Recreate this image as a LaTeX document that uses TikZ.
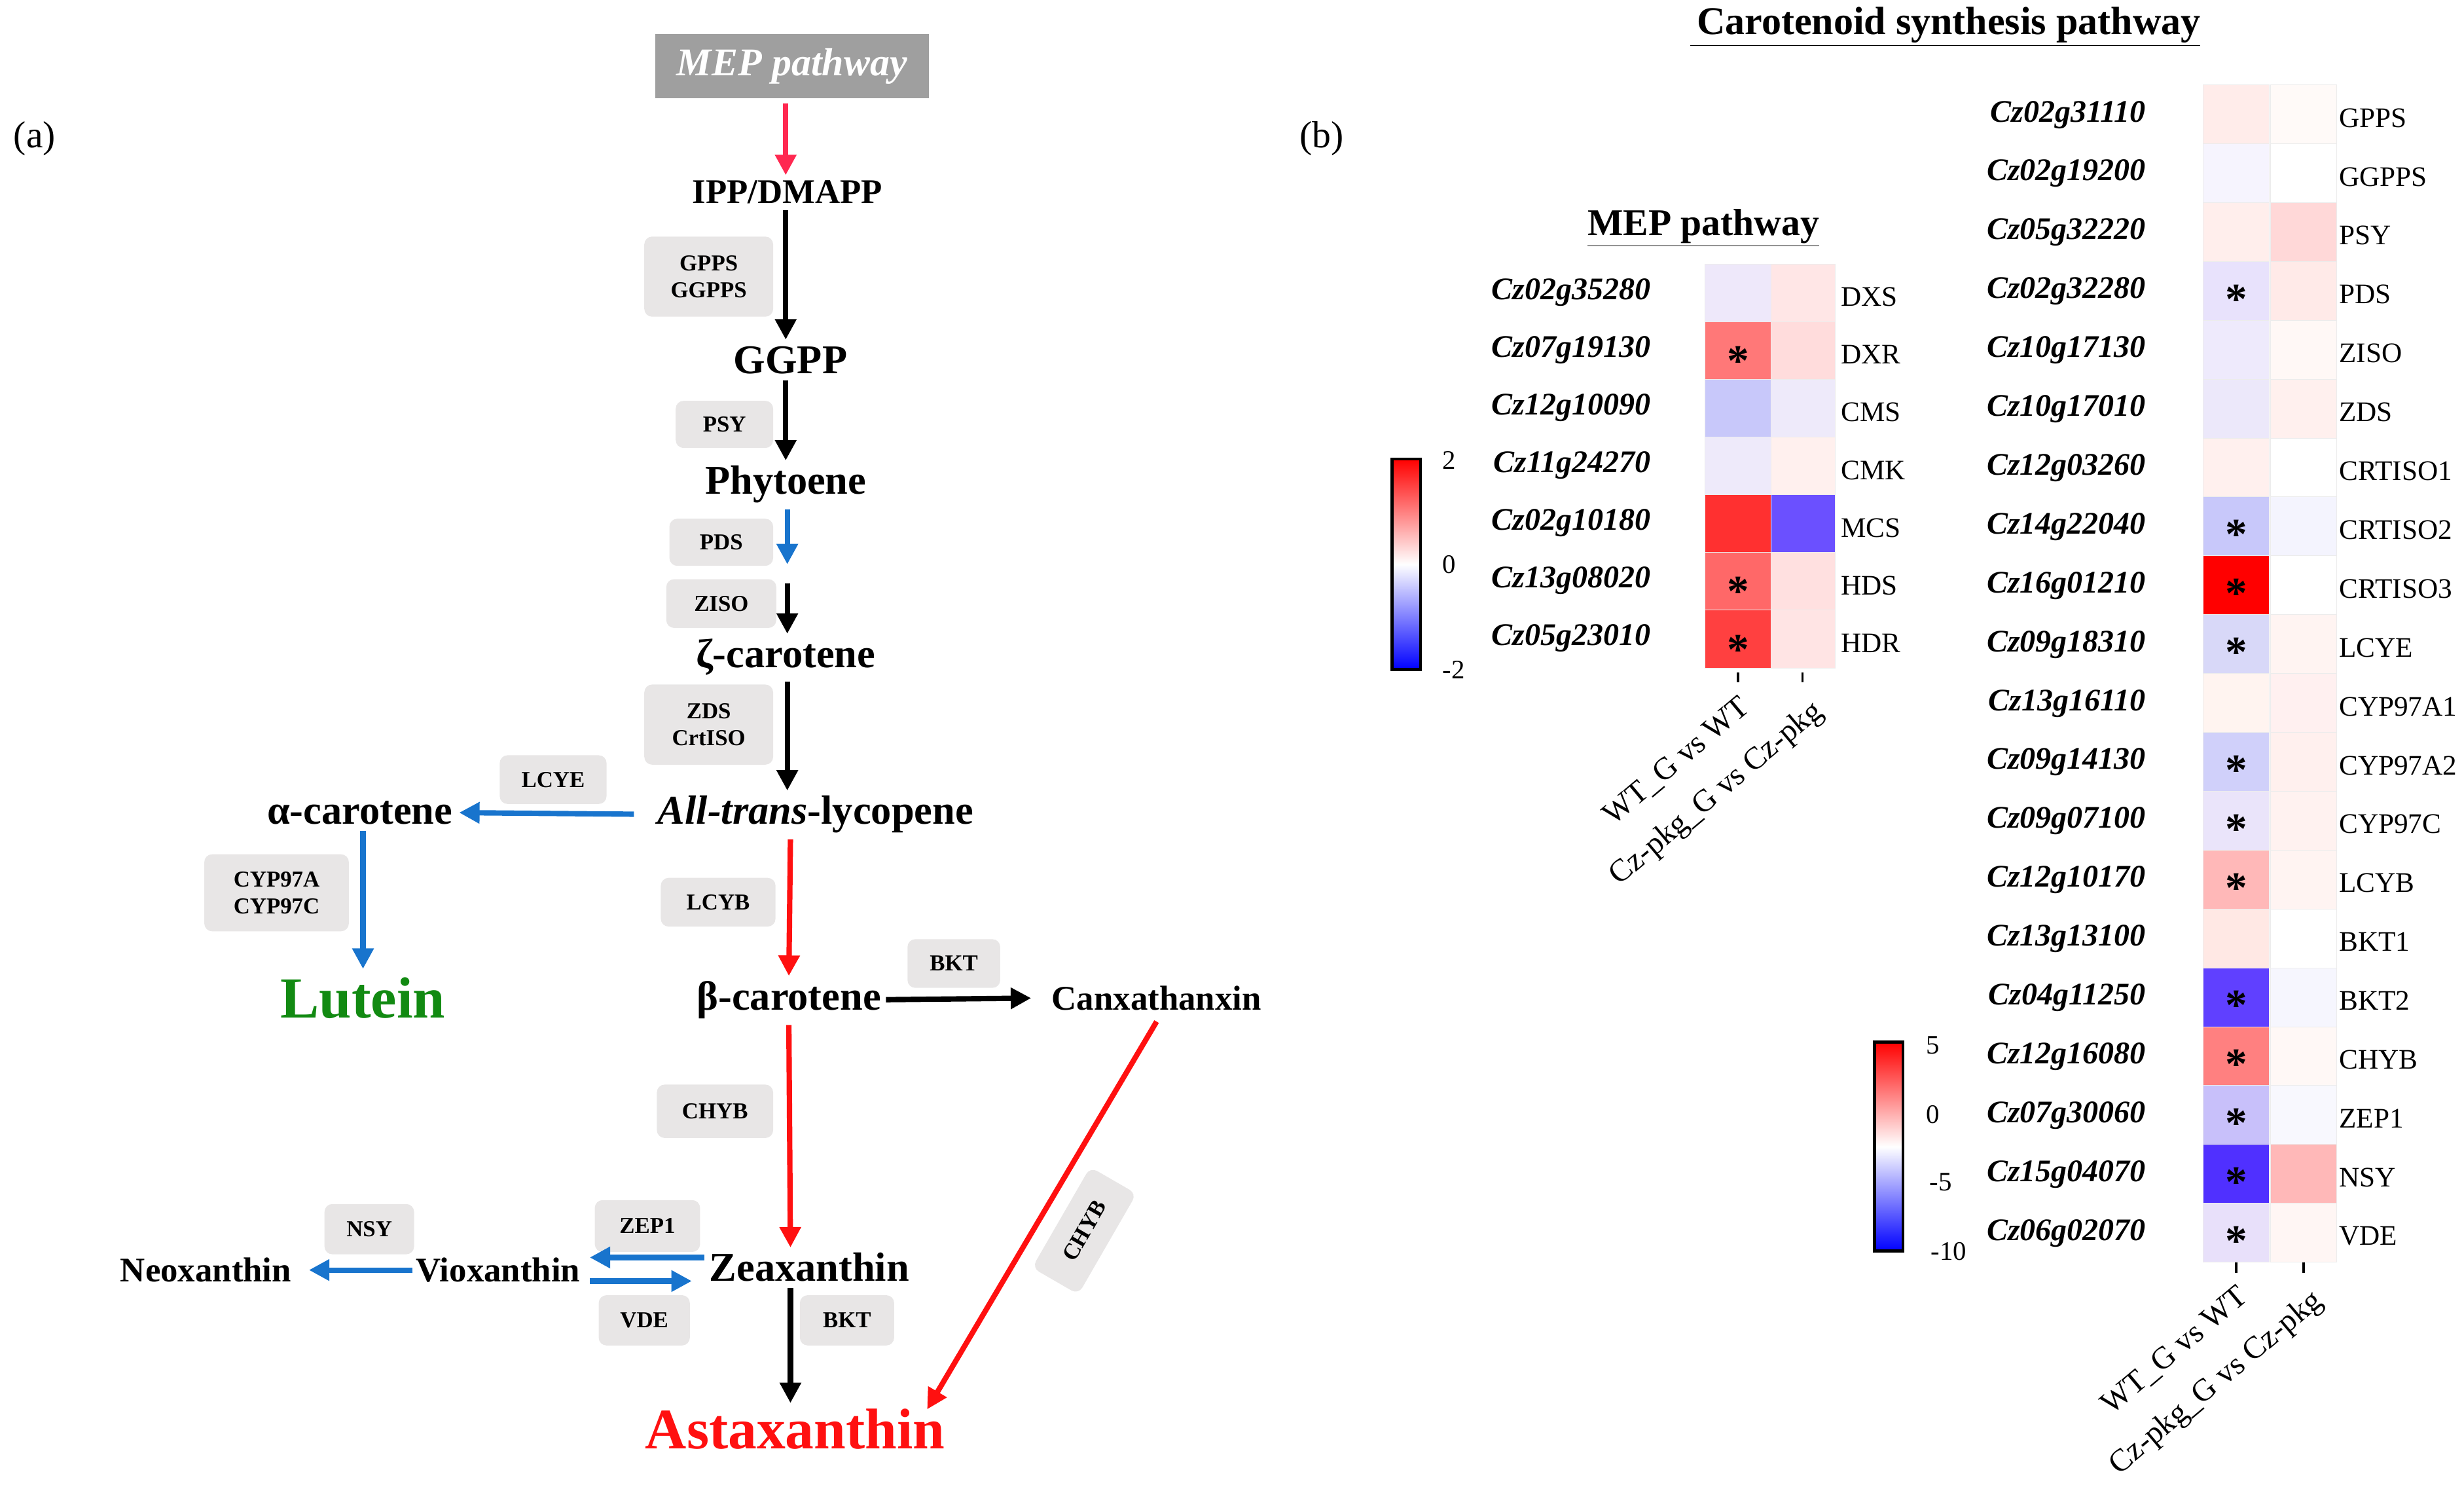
\documentclass[tikz,border=0pt]{standalone}
\usepackage{fontspec}
\setmainfont{Liberation Serif}
\usetikzlibrary{arrows.meta,positioning}
\definecolor{boxgray}{HTML}{E8E6E6}
\definecolor{arrred}{HTML}{FF1010}
\definecolor{arrpink}{HTML}{FF2850}
\definecolor{arrblue}{HTML}{1874CD}
\definecolor{lutgreen}{HTML}{128A12}
\tikzset{
  met/.style={font=\bfseries\fontsize{22}{26}\selectfont, inner sep=1pt},
  bigmet/.style={font=\bfseries\fontsize{26}{30}\selectfont, inner sep=1pt},
  enz/.style={fill=boxgray, rounded corners=5pt, font=\bfseries\fontsize{14.5}{17}\selectfont, align=center, inner sep=2pt},
  arr/.style={-{Triangle[length=13pt,width=13pt]}, line width=3.4pt},
  gene/.style={font=\bfseries\itshape\fontsize{20}{24}\selectfont, anchor=east},
  gname/.style={font=\fontsize{18}{21}\selectfont, anchor=west},
  star/.style={font=\bfseries\fontsize{28}{28}\selectfont, inner sep=0pt},
  cond/.style={font=\fontsize{20}{24}\selectfont, anchor=north east, rotate=40, inner sep=1pt},
  tick/.style={font=\fontsize{17}{20}\selectfont},
}
\begin{document}
\begin{tikzpicture}[x=1pt,y=-1pt]
\useasboundingbox (0,0) rectangle (1568,958);

% panel labels
\node[font=\fontsize{24}{28}\selectfont] (la) at (22,88) {(a)};
\node[font=\fontsize{24}{28}\selectfont] (lb) at (841,88) {(b)};

% ---------- pathway (a)
\node[fill=gray!75, minimum width=174pt, minimum height=41pt, text=white, font=\bfseries\itshape\fontsize{25}{29}\selectfont] (mep) at (504,42) {MEP pathway};
\node[met] (ipp) at (501,122) {IPP/DMAPP};
\node[bigmet] (ggpp) at (503,229) {GGPP};
\node[bigmet] (phy) at (500,308) {Phytoene};
\node[bigmet] (zeta) at (500,418) {ζ-carotene};
\node[bigmet] (lyco) at (519,518) {\textit{All-trans}-lycopene};
\node[bigmet] (alpha) at (229,517) {α-carotene};
\node[font=\bfseries\fontsize{37}{41}\selectfont, text=lutgreen] (lut) at (231,635) {Lutein};
\node[bigmet] (beta) at (502,636) {β-carotene};
\node[met] (canx) at (736,635) {Canxathanxin};
\node[bigmet] (zea) at (515,806) {Zeaxanthin};
\node[met] (vio) at (317,808) {Vioxanthin};
\node[met] (neo) at (131,808) {Neoxanthin};
\node[font=\bfseries\fontsize{36.5}{40}\selectfont, text=arrred] (asta) at (506,909) {Astaxanthin};

% enzyme boxes
\node[enz, minimum width=82pt, minimum height=51pt] (e1) at (451,176) {GPPS\\GGPPS};
\node[enz, minimum width=62pt, minimum height=30pt] (e2) at (461,270) {PSY};
\node[enz, minimum width=66pt, minimum height=30pt] (e3) at (459,345) {PDS};
\node[enz, minimum width=70pt, minimum height=31pt] (e4) at (459,384) {ZISO};
\node[enz, minimum width=82pt, minimum height=51pt] (e5) at (451,461) {ZDS\\CrtISO};
\node[enz, minimum width=68pt, minimum height=31pt] (e6) at (352,496) {LCYE};
\node[enz, minimum width=92pt, minimum height=49pt] (e7) at (176,568) {CYP97A\\CYP97C};
\node[enz, minimum width=73pt, minimum height=31pt] (e8) at (457,574) {LCYB};
\node[enz, minimum width=59pt, minimum height=31pt] (e9) at (607,613) {BKT};
\node[enz, minimum width=74pt, minimum height=34pt] (e10) at (455,707) {CHYB};
\node[enz, minimum width=74pt, minimum height=34pt, rotate=60] (e11) at (690,783) {CHYB};
\node[enz, minimum width=67pt, minimum height=33pt] (e12) at (412,780) {ZEP1};
\node[enz, minimum width=58pt, minimum height=32pt] (e13) at (410,840) {VDE};
\node[enz, minimum width=57pt, minimum height=32pt] (e14) at (235,782) {NSY};
\node[enz, minimum width=60pt, minimum height=32pt] (e15) at (539,840) {BKT};

% arrows
\draw[arr, arrpink] ([xshift=-4pt,yshift=-3pt]mep.south) -- ([xshift=-1pt,yshift=2pt]ipp.north);
\draw[arr] ([xshift=-1pt,yshift=-3pt]ipp.south) -- ([xshift=-3pt,yshift=3pt]ggpp.north);
\draw[arr] ([xshift=-3pt,yshift=-3pt]ggpp.south) -- ([yshift=2pt]phy.north);
\draw[arr, arrblue] ([xshift=1pt,yshift=-3pt]phy.south) -- ([xshift=1pt,yshift=-38pt]phy.south);
\draw[arr] ([xshift=1pt,yshift=-50pt]phy.south) -- ([xshift=1pt,yshift=2pt]zeta.north);
\draw[arr] ([xshift=1pt,yshift=-3pt]zeta.south) -- ([xshift=-18pt,yshift=2pt]lyco.north);
\draw[arr, arrblue] ([xshift=-14pt]lyco.west) -- ([xshift=3pt]alpha.east);
\draw[arr, arrblue] ([yshift=-3pt]alpha.south -| lut.north) -- ([yshift=2pt]lut.north);
\draw[arr, arrred] ([xshift=-16pt,yshift=-3pt]lyco.south) -- ([yshift=2pt]beta.north);
\draw[arr] ([xshift=2pt]beta.east) -- ([xshift=-12pt]canx.west);
\draw[arr, arrred] ([yshift=-3pt]beta.south) -- ([xshift=-12pt,yshift=2pt]zea.north);
\draw[arr, arrred] ([yshift=-6pt]canx.south) -- ([xshift=84pt,yshift=-4pt]asta.north);
\draw[arr, arrblue] ([xshift=-2pt,yshift=6pt]zea.west) -- ([xshift=-3pt,yshift=8pt]vio.east -| e12.west);
\draw[arr, arrblue] ([xshift=-3pt,yshift=-7pt]vio.east -| e12.west) -- ([xshift=-10pt,yshift=-9pt]zea.west);
\draw[arr, arrblue] ([xshift=-1pt]vio.west) -- ([xshift=10pt]neo.east);
\draw[arr] ([xshift=-12pt,yshift=-3pt]zea.south) -- ([xshift=-3pt,yshift=0pt]asta.north);

% ---------- heatmaps (b)
\node[font=\bfseries\fontsize{25}{29}\selectfont] (title) at (1238,17) {\underline{\,Carotenoid synthesis pathway}};
\node[font=\bfseries\fontsize{24}{28}\selectfont] (meptitle) at (1084,145) {\underline{MEP pathway}};

% MEP heatmap
\foreach \g/\n/\ca/\cb/\s [count=\i] in {
  Cz02g35280/DXS/EEE8FA/FFE6E6/,
  Cz07g19130/DXR/FF7878/FFDCDC/*,
  Cz12g10090/CMS/C8C8FA/EEEAFA/,
  Cz11g24270/CMK/EEEAFA/FFF0EE/,
  Cz02g10180/MCS/FF3030/6B50FF/,
  Cz13g08020/HDS/FF6868/FFE0E0/*,
  Cz05g23010/HDR/FF4040/FFE4E4/*}{
  \pgfmathsetmacro\yy{168+36.7*(\i-1)}
  \definecolor{ca}{HTML}{\ca}\definecolor{cb}{HTML}{\cb}
  \fill[ca, draw=gray!15] (1085,\yy) rectangle (1127,\yy+36.7);
  \fill[cb, draw=gray!15] (1127,\yy) rectangle (1168,\yy+36.7);
  \node[gene] (mg\i) at (1054,\yy+18) {\g};
  \node[gname] (mn\i) at (1168,\yy+21) {\n};
  \node[star] (ms\i) at (1106,\yy+25) {\s};
}
\shade[top color=red, bottom color=blue, middle color=white] (886,292) rectangle (904,426);
\draw[line width=2pt] (886,292) rectangle (904,426);
\node[tick] (mk1) at (922,293) {2};
\node[tick] (mk2) at (922,359) {0};
\node[tick] (mk3) at (925,426) {-2};
\draw[line width=1.5pt] (1106,428) -- (1106,434) (1147,428) -- (1147,434);
\node[cond] (mc1) at (1106,440) {WT\_G vs WT};
\node[cond] (mc2) at (1152,442) {Cz-pkg\_G vs Cz-pkg};

% carotenoid heatmap
\foreach \g/\n/\ca/\cb/\s [count=\i] in {
  Cz02g31110/GPPS/FFECEA/FFFAF8/,
  Cz02g19200/GGPPS/F6F4FE/FFFFFF/,
  Cz05g32220/PSY/FFEEEC/FFD8D8/,
  Cz02g32280/PDS/E8E2FC/FFEAE8/*,
  Cz10g17130/ZISO/EEEAFC/FFF8F6/,
  Cz10g17010/ZDS/ECE8FA/FFF0EE/,
  Cz12g03260/CRTISO1/FFF0EE/FFFFFF/,
  Cz14g22040/CRTISO2/C8C8FA/F4F4FE/*,
  Cz16g01210/CRTISO3/FF0000/FFFFFF/*,
  Cz09g18310/LCYE/D8D8F8/FFF4F2/*,
  Cz13g16110/CYP97A1/FFF4F0/FFF0F0/,
  Cz09g14130/CYP97A2/D0D0FA/FFF0EE/*,
  Cz09g07100/CYP97C/EAE4FA/FFF2F0/*,
  Cz12g10170/LCYB/FFB8B8/FFF4F2/*,
  Cz13g13100/BKT1/FFE8E4/FFFFFF/,
  Cz04g11250/BKT2/6040FF/F6F6FE/*,
  Cz12g16080/CHYB/FF8080/FFF8F6/*,
  Cz07g30060/ZEP1/C8C0FA/F8F8FE/*,
  Cz15g04070/NSY/5030FF/FFB8B8/*,
  Cz06g02070/VDE/E8E0FA/FFF6F4/*}{
  \pgfmathsetmacro\yy{54+37.45*(\i-1)}
  \definecolor{ca}{HTML}{\ca}\definecolor{cb}{HTML}{\cb}
  \fill[ca, draw=gray!15] (1402,\yy) rectangle (1444,\yy+37.45);
  \fill[cb, draw=gray!15] (1445,\yy) rectangle (1487,\yy+37.45);
  \node[gene] (cg\i) at (1369,\yy+19) {\g};
  \node[gname] (cn\i) at (1485,\yy+21) {\n};
  \node[star] (cs\i) at (1423,\yy+24) {\s};
}
\shade[top color=red, bottom color=blue, middle color=white] (1193,663) rectangle (1211,796);
\draw[line width=2pt] (1193,663) rectangle (1211,796);
\node[tick] (ck1) at (1230,665) {5};
\node[tick] (ck2) at (1230,709) {0};
\node[tick] (ck3) at (1235,752) {-5};
\node[tick] (ck4) at (1240,796) {-10};
\draw[line width=1.5pt] (1423,803) -- (1423,810) (1466,803) -- (1466,810);
\node[cond] (cc1) at (1423,815) {WT\_G vs WT};
\node[cond] (cc2) at (1470,817) {Cz-pkg\_G vs Cz-pkg};
\end{tikzpicture}
\end{document}
